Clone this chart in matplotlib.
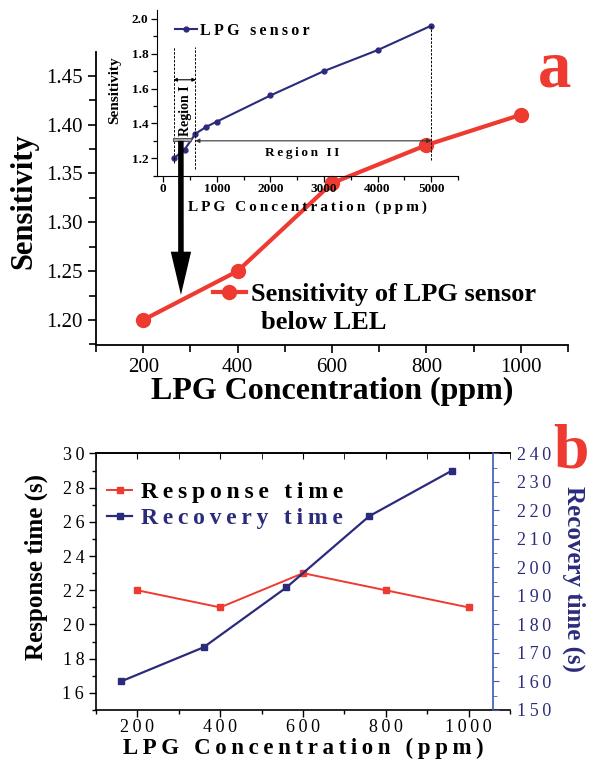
import matplotlib
matplotlib.use('Agg')
import matplotlib.pyplot as plt
from matplotlib.ticker import MultipleLocator, FuncFormatter
from matplotlib.patches import ConnectionPatch, Rectangle, ArrowStyle

plt.rcParams['font.family'] = ['Liberation Serif', 'DejaVu Serif']

RED = '#EE3A30'
NAVY = '#2B2B7C'
BLUE = '#3A5CB0'
THIN = '\u2009'

# panel a : sensitivity below LEL
conc_a = [200, 400, 600, 800, 1000]
sens_a = [1.20, 1.25, 1.34, 1.379, 1.41]

# inset : whole range
conc_in = [200, 400, 600, 800, 1000, 2000, 3000, 4000, 5000]
sens_in = [1.20, 1.25, 1.34, 1.38, 1.41, 1.56, 1.70, 1.82, 1.96]

# panel b : response / recovery
conc_resp = [200, 400, 600, 800, 1000]
resp_time = [22, 21, 23, 22, 21]
conc_rec = [160, 360, 560, 760, 960]
rec_time = [160, 172, 193, 218, 234]


def spaced(s):
    return THIN.join(s)


fig = plt.figure(figsize=(5.9, 7.59), dpi=100)

## panel a
ax_a = fig.add_axes([0.1627, 0.5455, 0.8, 0.3864])
ax_a.plot(conc_a, sens_a, color=RED, lw=3, marker='o', ms=10, label='Sensitivity of LPG sensor')
ax_a.set_xlim(100, 1100)
ax_a.set_ylim(1.1744, 1.4746)
ax_a.xaxis.set_major_locator(MultipleLocator(200))
ax_a.xaxis.set_minor_locator(MultipleLocator(100))
ax_a.yaxis.set_major_locator(MultipleLocator(0.05))
ax_a.yaxis.set_minor_locator(MultipleLocator(0.025))
ax_a.yaxis.set_major_formatter(FuncFormatter(lambda v, p: f'{v:.2f}'))
for s in ['top', 'right']:
    ax_a.spines[s].set_visible(False)
for s in ['left', 'bottom']:
    ax_a.spines[s].set_linewidth(1.3)
ax_a.tick_params(which='both', direction='out', labelsize=15, width=1.2)
ax_a.tick_params(which='major', length=6)
ax_a.tick_params(which='minor', length=5)
ax_a.set_ylabel('Sensitivity', fontsize=22, fontweight='bold', va='center')
ax_a.yaxis.set_label_coords(-0.1525, 0.489)
ax_a.set_xlabel('LPG Concentration (ppm)', fontsize=23, fontweight='bold', va='center')
ax_a.xaxis.set_label_coords(0.5, -0.16)
ax_a.patch.set_alpha(0)

leg_a = ax_a.legend(loc='center left', bbox_to_anchor=(213 / 590, 1 - 294 / 759),
                    bbox_transform=fig.transFigure, frameon=False, borderpad=0, borderaxespad=0,
                    handlelength=1.25, handletextpad=0.2,
                    prop={'size': 19, 'weight': 'bold'})
fig.text(261 / 590, 1 - 322 / 759, 'below LEL', fontsize=19, fontweight='bold', va='center')

## inset
ax_in = fig.add_axes([0.2666, 0.7685, 0.5097, 0.2183])
ax_in.patch.set_alpha(0)
ax_in.plot(conc_in, sens_in, color=NAVY, lw=1.5, marker='o', ms=3.5, label=spaced('LPG sensor'))
ax_in.set_xlim(-110, 5500)
ax_in.set_ylim(1.1, 2.05)
ax_in.xaxis.set_major_locator(MultipleLocator(1000))
ax_in.xaxis.set_minor_locator(MultipleLocator(500))
ax_in.yaxis.set_major_locator(MultipleLocator(0.2))
ax_in.yaxis.set_minor_locator(MultipleLocator(0.1))
ax_in.yaxis.set_major_formatter(FuncFormatter(lambda v, p: f'{v:.1f}'))
for s in ['top', 'right']:
    ax_in.spines[s].set_visible(False)
ax_in.tick_params(which='both', direction='out', labelsize=9.5, width=0.9, pad=2.5)
ax_in.tick_params(axis='x', pad=1.5)
ax_in.tick_params(which='major', length=4)
ax_in.tick_params(which='minor', length=3)
for lab in ax_in.get_xticklabels() + ax_in.get_yticklabels():
    lab.set_fontweight('bold')
ax_in.set_ylabel('Sensitivity', fontsize=11, fontweight='bold', va='center')
ax_in.yaxis.set_label_coords(-0.141, 0.517)
ax_in.set_xlabel(spaced('LPG Concentration (ppm)'), fontsize=11, fontweight='bold', va='center')
ax_in.xaxis.set_label_coords(0.498, -0.19)
ax_in.legend(loc='center left', bbox_to_anchor=(175 / 590, 1 - 30.7 / 759),
             bbox_transform=fig.transFigure, frameon=False, borderpad=0, borderaxespad=0,
             handlelength=1.4, handletextpad=0.15, prop={'size': 11.5, 'weight': 'bold'})

# region markers
dash = dict(color='k', lw=0.7, ls=(0, (2.5, 1.5)))
ax_in.plot([200, 200], [1.17, 1.84], **dash)
ax_in.plot([600, 600], [1.14, 1.84], **dash)
ax_in.plot([5000, 5000], [1.19, 1.96], **dash)
ax_in.annotate('', xy=(190, 1.65), xytext=(610, 1.65),
               arrowprops=dict(arrowstyle='<|-|>', lw=0.8, color='k', mutation_scale=5,
                               shrinkA=0, shrinkB=0))
ax_in.annotate('', xy=(600, 1.30), xytext=(5000, 1.30),
               arrowprops=dict(arrowstyle='<|-|>', lw=0.8, color='#333333', mutation_scale=6,
                               shrinkA=0, shrinkB=0))
ax_in.text(423, 1.47, 'Region I', rotation=90, fontsize=10, fontweight='bold',
           ha='center', va='center')
ax_in.text(2600, 1.228, spaced('Region II'), fontsize=9.5, fontweight='bold',
           ha='center', va='center')
ax_in.add_patch(Rectangle((180, 1.297), 330, 0.018, facecolor='#b0b0b0', edgecolor='#555555',
                          lw=0.8, zorder=4))

# big arrow from inset down to the main plot
arrow = ConnectionPatch(xyA=(330, 1.30), coordsA=ax_in.transData,
                        xyB=(280, 1.2256), coordsB=ax_a.transData,
                        arrowstyle=ArrowStyle('-|>', head_length=0.85, head_width=0.2),
                        mutation_scale=24, lw=4, color='k', shrinkA=0, shrinkB=0,
                        joinstyle='miter', capstyle='butt')
fig.add_artist(arrow)

fig.text(555 / 590, 1 - 86.7 / 759, 'a', color=RED, fontsize=48, fontweight='bold',
         ha='center', va='baseline')

## panel b
ax_b = fig.add_axes([0.1627, 0.06456, 0.7017, 0.338])
ax_b.plot(conc_resp, resp_time, color=RED, lw=1.4, marker='s', ms=4.5, label=spaced('Response time'))
ax_b.set_xlim(100, 1100)
ax_b.set_ylim(15, 30)
ax_b.xaxis.set_major_locator(MultipleLocator(200))
ax_b.xaxis.set_minor_locator(MultipleLocator(100))
ax_b.yaxis.set_major_locator(MultipleLocator(2))
ax_b.yaxis.set_minor_locator(MultipleLocator(1))
sp_fmt = FuncFormatter(lambda v, p: spaced(f'{v:.0f}'))
ax_b.xaxis.set_major_formatter(sp_fmt)
ax_b.yaxis.set_major_formatter(sp_fmt)
ax_b.spines['right'].set_visible(False)
for s in ['left', 'bottom', 'top']:
    ax_b.spines[s].set_linewidth(1.2)
ax_b.tick_params(which='both', direction='out', labelsize=13, width=1.0)
ax_b.tick_params(which='major', length=5)
ax_b.tick_params(which='minor', length=3)
ax_b.tick_params(axis='x', pad=1.5)
top = ax_b.secondary_xaxis('top')
top.xaxis.set_major_locator(MultipleLocator(200))
top.xaxis.set_minor_locator(MultipleLocator(100))
top.tick_params(which='both', direction='in', labeltop=False, length=4)
top.spines['top'].set_linewidth(1.2)
ax_b.set_ylabel('Response time (s)', fontsize=18, fontweight='bold', va='center')
ax_b.yaxis.set_label_coords(-0.145, 0.558)
ax_b.set_xlabel(spaced('LPG Concentration (ppm)'), fontsize=16.5, fontweight='bold', va='center')
ax_b.xaxis.set_label_coords(0.5, -0.148)

ax_b2 = ax_b.twinx()
ax_b2.plot(conc_rec, rec_time, color=NAVY, lw=1.6, marker='s', ms=4.5, label=spaced('Recovery time'))
ax_b2.set_ylim(150, 240)
ax_b2.yaxis.set_major_locator(MultipleLocator(10))
ax_b2.yaxis.set_minor_locator(MultipleLocator(5))
ax_b2.yaxis.set_major_formatter(sp_fmt)
ax_b2.spines['right'].set_position(('axes', 0.96))
ax_b2.spines['right'].set_color(BLUE)
ax_b2.spines['right'].set_linewidth(1.2)
for s in ['left', 'top', 'bottom']:
    ax_b2.spines[s].set_visible(False)
ax_b2.tick_params(axis='y', which='both', direction='out', colors=BLUE, labelcolor=NAVY,
                  labelsize=13, pad=13)
ax_b2.tick_params(axis='y', which='major', length=4)
ax_b2.tick_params(axis='y', which='minor', length=3)
ax_b2.set_ylabel('Recovery time (s)', fontsize=18, fontweight='bold', color=NAVY,
                 rotation=270, va='center')
ax_b2.yaxis.set_label_coords(1.155, 0.51)

h1, l1 = ax_b.get_legend_handles_labels()
h2, l2 = ax_b2.get_legend_handles_labels()
leg_b = ax_b.legend(h1 + h2, l1 + l2, loc='center left',
                    bbox_to_anchor=(107 / 590, 1 - 505.5 / 759), bbox_transform=fig.transFigure,
                    frameon=False, borderpad=0, borderaxespad=0, handlelength=1.06,
                    handletextpad=0.4, labelspacing=0.2, prop={'size': 17, 'weight': 'bold'})
leg_b.get_texts()[1].set_color(NAVY)

fig.text(553 / 590, 1 - 468 / 759, 'b', color=RED, fontsize=46, fontweight='bold',
         ha='left', va='baseline')

fig.savefig('out.png', dpi=100)
